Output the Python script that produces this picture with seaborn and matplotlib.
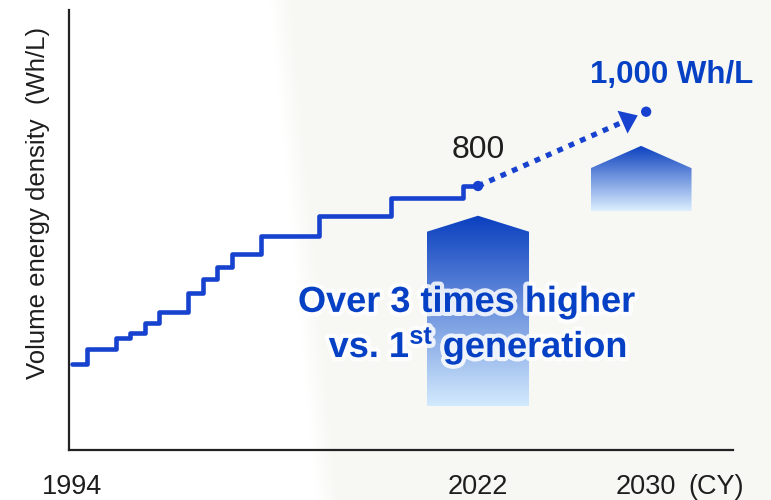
import numpy as np
import pandas as pd
import matplotlib
matplotlib.use("Agg")
import matplotlib.pyplot as plt
import seaborn as sns
from matplotlib.patches import Polygon
from matplotlib import patheffects as pe
from matplotlib.colors import LinearSegmentedColormap, to_rgb

# ---------------- data ----------------
years = [1994, 1995, 1997, 1998, 1999, 2000, 2002, 2003, 2004, 2005, 2007, 2011, 2016, 2021, 2022]
density = [320, 360, 390, 403, 430, 460, 513, 550, 581, 617, 666, 720, 767, 800, 800]
target_years = [2022, 2030]
target_density = [800, 1000]
tick_years = [1994, 2022, 2030]
tick_labels = ["1994", "2022", "2030"]
label_current = "800"
label_target = "1,000 Wh/L"
y_title = "Volume energy density  (Wh/L)"
unit_label = "(CY)"
msg_line1 = "Over 3 times higher"
msg_line2 = r"vs. 1$^{\mathbf{st}}$ generation"

FUTURE_STRETCH = 1.45  # schematic: future years drawn wider


def xpos(y):
    y = np.asarray(y, dtype=float)
    return np.where(y <= 2022, y, 2022 + (y - 2022) * FUTURE_STRETCH)


# ---------------- style ----------------
sns.set_theme(style="white")
plt.rcParams["font.family"] = ["Liberation Sans", "DejaVu Sans"]
plt.rcParams["mathtext.fontset"] = "custom"
plt.rcParams["mathtext.rm"] = "Liberation Sans"
plt.rcParams["mathtext.bf"] = "Liberation Sans:bold"
plt.rcParams["mathtext.it"] = "Liberation Sans:italic"

BLUE_LINE = "#1742cf"
BLUE_TEXT = "#0640c4"
INK = "#1e1e1e"

fig = plt.figure(figsize=(7.71, 5), dpi=100)
fig.patch.set_facecolor("white")

# faint background wash (right side slightly tinted)
bg = fig.add_axes([0, 0, 1, 1], zorder=-10)
W, H = 771, 500
xs = np.linspace(0, 1, W)[None, :]
ys = np.linspace(1, 0, H)[:, None]
edge = 0.35 + 0.06 * (1 - ys)
w = np.clip((xs - edge) / 0.03, 0, 1)
c0 = np.array(to_rgb("#ffffff"))
c1 = np.array(to_rgb("#f7f8f3"))
img = c0[None, None, :] * (1 - w[:, :, None]) + c1[None, None, :] * w[:, :, None]
bg.imshow(img, aspect="auto", extent=[0, 1, 0, 1])
bg.set_axis_off()

ax = fig.add_axes([69 / 771, 50 / 500, 664 / 771, 440 / 500])
ax.patch.set_alpha(0)


def gradient_house(ax, xc, half_w, bottom, shoulder, apex, top_color, bottom_color):
    verts = [(xc - half_w, bottom), (xc - half_w, shoulder), (xc, apex),
             (xc + half_w, shoulder), (xc + half_w, bottom)]
    poly = Polygon(verts, closed=True, facecolor="none", edgecolor="none")
    ax.add_patch(poly)
    grad = np.linspace(0, 1, 256).reshape(-1, 1)
    cmap = LinearSegmentedColormap.from_list("g", [bottom_color, top_color])
    im = ax.imshow(grad, extent=[xc - half_w, xc + half_w, bottom, apex],
                   origin="lower", cmap=cmap, aspect="auto", zorder=1,
                   interpolation="bicubic")
    im.set_clip_path(poly)


# decorative gradient arrows
gradient_house(ax, float(xpos(2022)), 3.52, 208, 677, 720, "#0a3fbf", "#d3eafd")
gradient_house(ax, float(xpos(2030)) - 0.35, 3.48, 733, 848, 908, "#0a3fbf", "#dcefff")

# historical step line
hist = pd.DataFrame({"year": years, "density": density})
sns.lineplot(data=hist, x="year", y="density", drawstyle="steps-post",
             color=BLUE_LINE, lw=3.3, ax=ax, zorder=3)

# projection
px = xpos(target_years)
sx, sy = px[0], target_density[0]
ex, ey = px[1], target_density[1]
bx, by = sx + 0.86 * (ex - sx), sy + 0.86 * (ey - sy)
tx, ty = sx + 0.95 * (ex - sx), sy + 0.95 * (ey - sy)
ax.plot([sx, bx], [sy, by], ls=(0, (1.1, 1.25)), lw=3.8, color=BLUE_LINE,
        dash_capstyle="butt", zorder=3)
ax.annotate("", xy=(tx, ty), xytext=(bx, by),
            arrowprops=dict(arrowstyle="-|>,head_length=0.6,head_width=0.45",
                            mutation_scale=20, color=BLUE_LINE, lw=0,
                            shrinkA=0, shrinkB=0), zorder=4)
proj = pd.DataFrame({"x": px, "y": target_density})
sns.scatterplot(data=proj, x="x", y="y", s=55, color=BLUE_LINE,
                edgecolor="none", ax=ax, zorder=5)

# value labels
ax.annotate(label_current, xy=(sx, sy), xytext=(0, 20), textcoords="offset points",
            ha="center", va="baseline", fontsize=23, color=INK, zorder=6)
ax.annotate(label_target, xy=(ex, ey), xytext=(18.5, 20.7), textcoords="offset points",
            ha="center", va="baseline", fontsize=22.5, fontweight="bold",
            color=BLUE_TEXT, zorder=6)

# message
glow = [pe.withStroke(linewidth=6, foreground="white", alpha=0.85)]
ax.text(0.599, 0.314, msg_line1, transform=ax.transAxes, ha="center", va="baseline",
        fontsize=26, fontweight="bold", color=BLUE_TEXT, path_effects=glow, zorder=7)
ax.text(0.616, 0.211, msg_line2, transform=ax.transAxes, ha="center", va="baseline",
        fontsize=26, fontweight="bold", color=BLUE_TEXT, path_effects=glow, zorder=7)

# axes
ax.set_xlim(1993.79, 2039.59)
ax.set_ylim(89.4, 1273.8)
ax.set_xticks(xpos(tick_years))
ax.set_xticklabels(tick_labels, fontsize=19.5, color=INK)
ax.set_yticks([])
ax.tick_params(axis="x", length=0, pad=17)
ax.set_xlabel("")
ax.set_ylabel(y_title, fontsize=18.5, color=INK)
ax.yaxis.set_label_coords(-0.029, 0.561)
ax.annotate(unit_label, xy=(float(xpos(2030)), 0), xycoords=("data", "axes fraction"),
            xytext=(50.4, -17), textcoords="offset points", ha="center", va="top",
            fontsize=19.5, color=INK)

sns.despine(ax=ax)
for side in ("left", "bottom"):
    ax.spines[side].set_color("#222222")
    ax.spines[side].set_linewidth(1.6)

fig.savefig("out.png", dpi=100)
